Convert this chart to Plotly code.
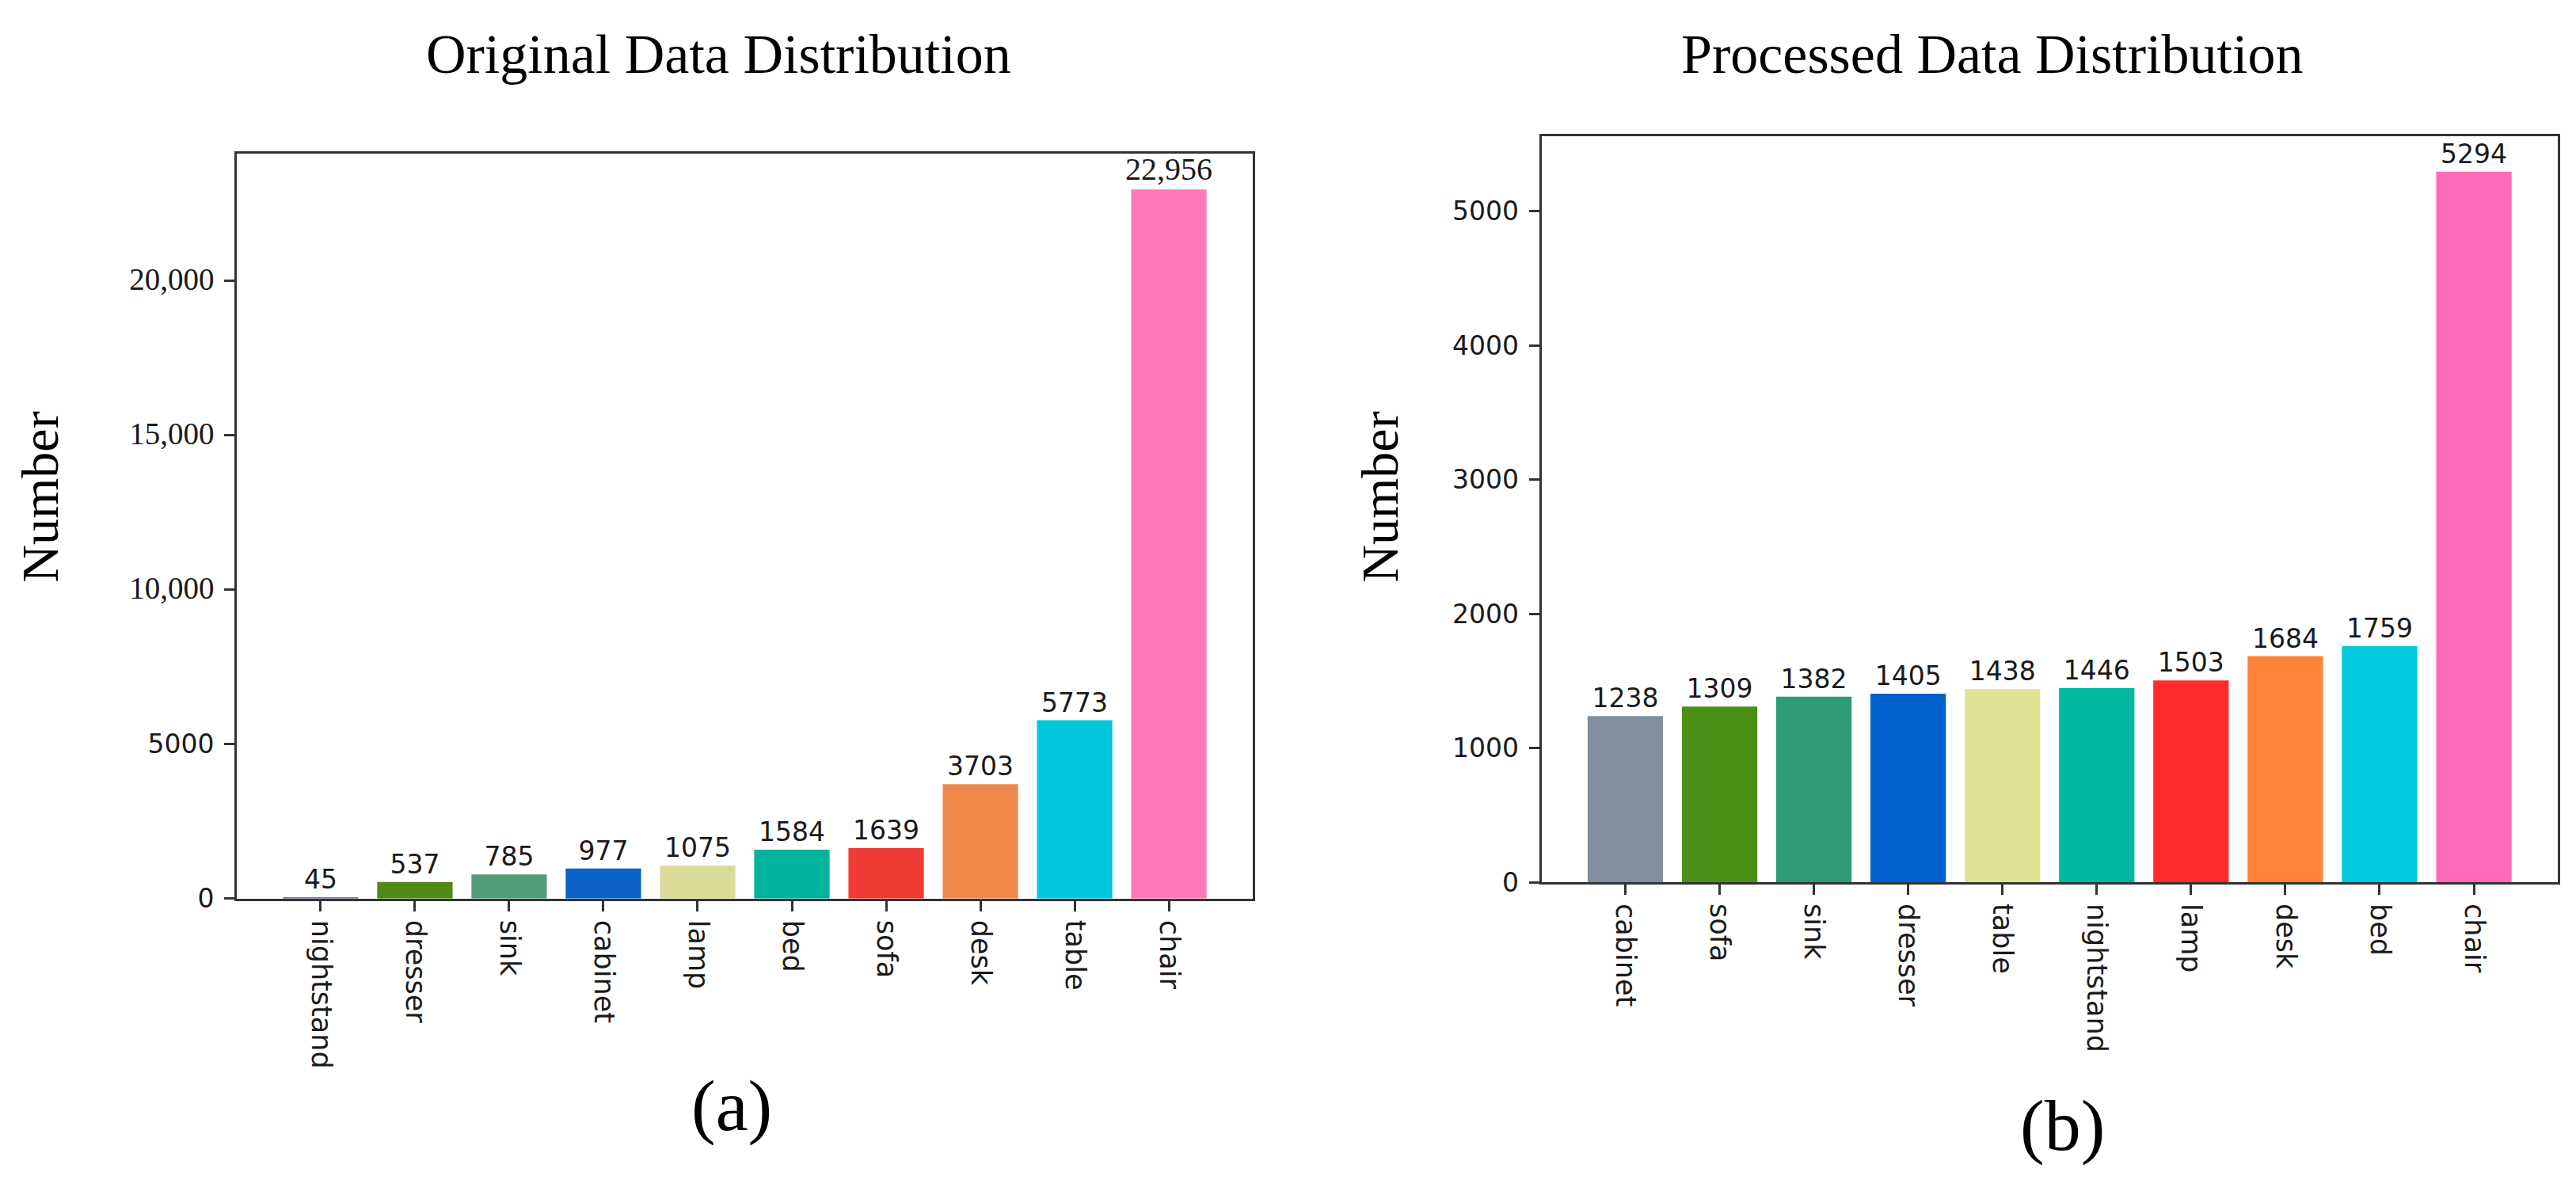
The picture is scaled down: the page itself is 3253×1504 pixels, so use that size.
import plotly.graph_objects as go
from plotly.subplots import make_subplots

# (a) original data
orig_labels = ["nightstand", "dresser", "sink", "cabinet", "lamp",
               "bed", "sofa", "desk", "table", "chair"]
orig_counts = [45, 537, 785, 977, 1075, 1584, 1639, 3703, 5773, 22956]
orig_text = ["45", "537", "785", "977", "1075", "1584", "1639", "3703", "5773", "22,956"]
orig_colors = ["#6f7f95", "#4f8a16", "#549b7a", "#0b63c7", "#dcdc9a",
               "#00b4a0", "#f03b36", "#f0884c", "#00c6dc", "#ff78b8"]

# (b) processed data
proc_labels = ["cabinet", "sofa", "sink", "dresser", "table",
               "nightstand", "lamp", "desk", "bed", "chair"]
proc_counts = [1238, 1309, 1382, 1405, 1438, 1446, 1503, 1684, 1759, 5294]
proc_colors = ["#8190a0", "#4a8f16", "#2e9b78", "#0061cc", "#e1e193",
               "#00b9a0", "#ff2c2c", "#ff8338", "#00c8de", "#ff6bb9"]

orig_yticks = [0, 5000, 10000, 15000, 20000]
orig_yticktext = ["0", "5000", "10,000", "15,000", "20,000"]
proc_yticks = [0, 1000, 2000, 3000, 4000, 5000]

W, H = 3253, 1504
SANS = "DejaVu Sans"
SERIF = "Liberation Serif"
INK = "#1a1a1a"
SPINE = "#333333"


def serif_tick(t):
    # the larger tick values in (a) are set in a serif face
    if "," in t:
        return '<span style="font-family:%s;font-size:39px">%s</span>' % (SERIF, t)
    return t


fig = make_subplots(rows=1, cols=2)

fig.add_trace(
    go.Bar(
        x=list(range(len(orig_labels))),
        y=orig_counts,
        width=0.8,
        marker=dict(color=orig_colors, line=dict(width=0)),
        text=orig_text,
        textposition="outside",
        textfont=dict(
            family=[SERIF if "," in t else SANS for t in orig_text],
            size=[40 if "," in t else 33 for t in orig_text],
            color=INK,
        ),
        constraintext="none",
        cliponaxis=False,
        showlegend=False,
    ),
    row=1, col=1,
)

fig.add_trace(
    go.Bar(
        x=list(range(len(proc_labels))),
        y=proc_counts,
        width=0.8,
        marker=dict(color=proc_colors, line=dict(width=0)),
        text=[str(v) for v in proc_counts],
        textposition="outside",
        textfont=dict(family=SANS, size=33, color=INK),
        constraintext="none",
        cliponaxis=False,
        showlegend=False,
    ),
    row=1, col=2,
)

axis_common = dict(
    showline=True, linecolor=SPINE, linewidth=3, mirror=True,
    ticks="outside", ticklen=13, tickwidth=3, tickcolor=SPINE,
    showgrid=False, zeroline=False,
    tickfont=dict(family=SANS, size=33, color=INK),
)

fig.update_xaxes(
    axis_common,
    tickmode="array", tickangle=90, tickfont=dict(size=35),
    ticklabelstandoff=4,
)
fig.update_xaxes(
    domain=[291 / W, 1574 / W], range=[-0.89, 9.89],
    tickvals=list(range(len(orig_labels))), ticktext=orig_labels,
    row=1, col=1,
)
fig.update_xaxes(
    domain=[1938.5 / W, 3222 / W], range=[-0.89, 9.89],
    tickvals=list(range(len(proc_labels))), ticktext=proc_labels,
    row=1, col=2,
)

fig.update_yaxes(axis_common, ticklabelstandoff=6)
fig.update_yaxes(
    domain=[1 - 1142 / H, 1 - 189 / H], range=[0, max(orig_counts) * 1.05],
    tickmode="array", tickvals=orig_yticks,
    ticktext=[serif_tick(t) for t in orig_yticktext],
    row=1, col=1,
)
fig.update_yaxes(
    domain=[1 - 1121 / H, 1 - 166 / H], range=[0, max(proc_counts) * 1.05],
    tickmode="array", tickvals=proc_yticks,
    ticktext=[str(v) for v in proc_yticks],
    row=1, col=2,
)

notes = [
    # text, x, y, anchor, size, angle
    ("Original Data Distribution", 528 / W, 1 - 61 / H, "left", 70, 0),
    ("Processed Data Distribution", 2902 / W, 1 - 61 / H, "right", 70, 0),
    ("Number", 43 / W, 1 - 628 / H, "center", 66, -90),
    ("Number", 1735 / W, 1 - 628 / H, "center", 66, -90),
    ("(a)", 916 / W, 1 - 1407 / H, "center", 92, 0),
    ("(b)", 2596 / W, 1 - 1432 / H, "center", 92, 0),
]
for txt, x, y, anchor, size, ang in notes:
    fig.add_annotation(
        text=txt, x=x, y=y, xref="paper", yref="paper",
        xanchor=anchor, yanchor="middle", showarrow=False, textangle=ang,
        font=dict(family=SERIF, size=size, color="#000000"),
    )

fig.update_layout(
    width=W, height=H,
    margin=dict(l=0, r=0, t=0, b=0),
    paper_bgcolor="white", plot_bgcolor="white",
    bargap=0.2,
)

fig.write_html("out.html")
